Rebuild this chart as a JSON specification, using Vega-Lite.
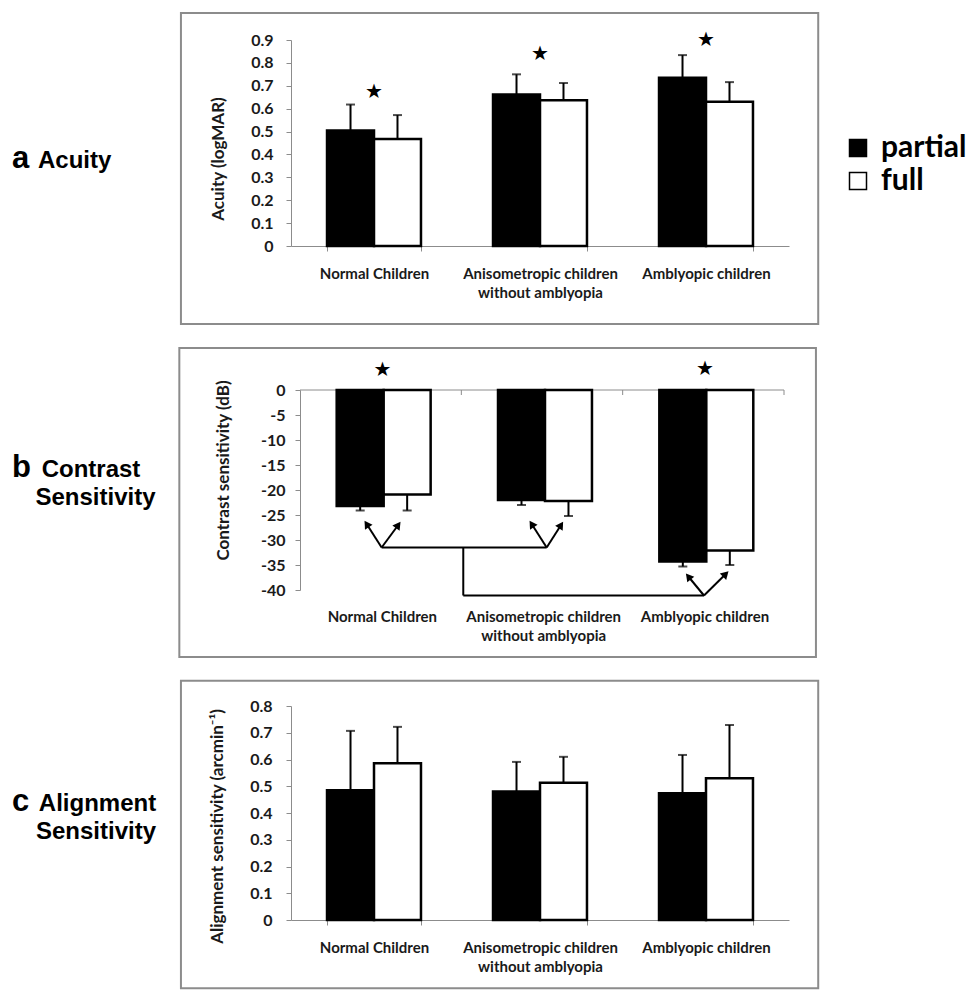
{
  "$schema": "https://vega.github.io/schema/vega-lite/v6.json",
  "background": "white",
  "padding": {"left": 11, "top": 11, "right": 0, "bottom": 0},
  "spacing": 21,
  "config": {
    "view": {"stroke": null},
    "font": "Lato",
    "axisY": {"labelOverlap": false, "grid": false, "domainColor": "#8c8c8c", "tickColor": "#8c8c8c", "tickSize": 5,
      "labelFont": "Lato", "labelFontWeight": "bold", "labelFontSize": 16, "labelColor": "#1a1a1a",
      "titleFont": "Lato", "titleFontWeight": "bold", "titleFontSize": 17, "titleColor": "#1a1a1a"}
  },
  "datasets": {
    "bars": [
      {"panel": "a", "group": "Normal Children", "cond": "partial", "value": 0.505, "err": 0.618},
      {"panel": "a", "group": "Normal Children", "cond": "full", "value": 0.468, "err": 0.572},
      {"panel": "a", "group": "Anisometropic children without amblyopia", "cond": "partial", "value": 0.662, "err": 0.75},
      {"panel": "a", "group": "Anisometropic children without amblyopia", "cond": "full", "value": 0.637, "err": 0.712},
      {"panel": "a", "group": "Amblyopic children", "cond": "partial", "value": 0.735, "err": 0.834},
      {"panel": "a", "group": "Amblyopic children", "cond": "full", "value": 0.63, "err": 0.716},
      {"panel": "b", "group": "Normal Children", "cond": "partial", "value": -23.2, "err": -24.1},
      {"panel": "b", "group": "Normal Children", "cond": "full", "value": -20.9, "err": -24.1},
      {"panel": "b", "group": "Anisometropic children without amblyopia", "cond": "partial", "value": -22.0, "err": -23.0},
      {"panel": "b", "group": "Anisometropic children without amblyopia", "cond": "full", "value": -22.2, "err": -25.2},
      {"panel": "b", "group": "Amblyopic children", "cond": "partial", "value": -34.3, "err": -35.3},
      {"panel": "b", "group": "Amblyopic children", "cond": "full", "value": -32.1, "err": -35.0},
      {"panel": "c", "group": "Normal Children", "cond": "partial", "value": 0.485, "err": 0.707},
      {"panel": "c", "group": "Normal Children", "cond": "full", "value": 0.586, "err": 0.722},
      {"panel": "c", "group": "Anisometropic children without amblyopia", "cond": "partial", "value": 0.48, "err": 0.591},
      {"panel": "c", "group": "Anisometropic children without amblyopia", "cond": "full", "value": 0.513, "err": 0.61},
      {"panel": "c", "group": "Amblyopic children", "cond": "partial", "value": 0.474, "err": 0.617},
      {"panel": "c", "group": "Amblyopic children", "cond": "full", "value": 0.53, "err": 0.729}
    ],
    "stars": [
      {"panel": "a", "group": "Normal Children", "y": 0.673},
      {"panel": "a", "group": "Anisometropic children without amblyopia", "y": 0.84},
      {"panel": "a", "group": "Amblyopic children", "y": 0.9},
      {"panel": "b", "group": "Normal Children", "y": 4.0},
      {"panel": "b", "group": "Amblyopic children", "y": 4.3}
    ],
    "boxes": [
      {"panel": "a", "x": -0.663, "x2": 3.176, "y": -0.341, "y2": 1.018},
      {"panel": "b", "x": -0.748, "x2": 3.198, "y": -53.4, "y2": 8.4},
      {"panel": "c", "x": -0.663, "x2": 3.176, "y": -0.255, "y2": 0.894}
    ],
    "letters": [
      {"panel": "a", "x": -1.681, "y": 0.341, "text": "a"},
      {"panel": "b", "x": -1.785, "y": -17.4, "text": "b"},
      {"panel": "c", "x": -1.681, "y": 0.409, "text": "c"}
    ],
    "words": [
      {"panel": "a", "x": -1.303, "y": 0.341, "text": "Acuity"},
      {"panel": "b", "x": -1.2955, "y": -17.4, "text": "Contrast"},
      {"panel": "b", "x": -1.2676, "y": -23.0, "text": "Sensitivity"},
      {"panel": "c", "x": -1.1657, "y": 0.409, "text": "Alignment"},
      {"panel": "c", "x": -1.1747, "y": 0.301, "text": "Sensitivity"}
    ],
    "baxis": [
      {"x": 0, "x2": 3, "y": 0, "y2": 0},
      {"x": 1, "x2": 1, "y": 0, "y2": -1},
      {"x": 2, "x2": 2, "y": 0, "y2": -1},
      {"x": 3, "x2": 3, "y": 0, "y2": -1}
    ],
    "bsegs": [
      {"x": 0.506, "y": -31.5, "x2": 1.529, "y2": -31.5},
      {"x": 1.012, "y": -31.5, "x2": 1.012, "y2": -41.1},
      {"x": 1.012, "y": -41.1, "x2": 2.504, "y2": -41.1},
      {"x": 0.506, "y": -31.5, "x2": 0.413, "y2": -26.8},
      {"x": 0.506, "y": -31.5, "x2": 0.609, "y2": -27.0},
      {"x": 1.529, "y": -31.5, "x2": 1.436, "y2": -26.8},
      {"x": 1.529, "y": -31.5, "x2": 1.618, "y2": -27.0},
      {"x": 2.504, "y": -41.1, "x2": 2.407, "y2": -37.3},
      {"x": 2.504, "y": -41.1, "x2": 2.639, "y2": -36.8}
    ],
    "heads": [
      {"x": 0.413, "y": -26.8, "angle": 327},
      {"x": 0.609, "y": -27.0, "angle": 36},
      {"x": 1.436, "y": -26.8, "angle": 327},
      {"x": 1.618, "y": -27.0, "angle": 33},
      {"x": 2.407, "y": -37.3, "angle": 321},
      {"x": 2.639, "y": -36.8, "angle": 45}
    ]
  },
  "vconcat": [
    {
      "width": 498,
      "height": 206,
      "resolve": {"scale": {"x": "independent"}},
      "layer": [
        {
          "data": {"name": "boxes"},
          "transform": [{"filter": "datum.panel == 'a'"}],
          "mark": {"type": "rect", "fillOpacity": 0, "stroke": "#8c8c8c", "strokeWidth": 2},
          "encoding": {
            "x": {"field": "x", "type": "quantitative", "scale": {"domain": [0, 3], "nice": false, "zero": false}, "axis": null},
            "x2": {"field": "x2"},
            "y": {"field": "y", "type": "quantitative", "scale": {"domain": [0, 0.9], "nice": false, "zero": false},
              "axis": {"title": "Acuity (logMAR)", "values": [0, 0.1, 0.2, 0.3, 0.4, 0.5, 0.6, 0.7, 0.8, 0.9], "labelExpr": "toString(datum.value)", "labelPadding": 13, "titlePadding": 23, "titleY": 118.5}},
            "y2": {"field": "y2"}
          }
        },
        {
          "data": {"name": "bars"},
          "transform": [{"filter": "datum.panel == 'a'"}],
          "layer": [
            {
              "mark": {"type": "bar", "stroke": "black", "strokeWidth": 2.5},
              "encoding": {
                "x": {"field": "group", "type": "nominal", "title": null, "sort": ["Normal Children", "Anisometropic children without amblyopia", "Amblyopic children"],
                  "scale": {"domain": ["Normal Children", "Anisometropic children without amblyopia", "Amblyopic children"], "paddingInner": 0.434, "paddingOuter": 0.217, "round": false},
                  "axis": {"domainColor": "#8c8c8c", "tickColor": "#8c8c8c", "tickSize": 5, "tickBand": "extent", "labelAngle": 0, "labelPadding": 15, "labelLineHeight": 19, "labelLimit": 400,
                    "labelFont": "Lato", "labelFontWeight": "bold", "labelFontSize": 15, "labelColor": "#1a1a1a",
                    "labelExpr": "datum.value == 'Anisometropic children without amblyopia' ? ['Anisometropic children', 'without amblyopia'] : datum.label"}},
                "xOffset": {"field": "cond", "type": "nominal", "sort": ["partial", "full"], "scale": {"domain": ["partial", "full"], "paddingInner": 0, "paddingOuter": 0}},
                "y": {"field": "value", "type": "quantitative", "scale": {"domain": [0, 0.9], "nice": false, "zero": false},
                  "axis": {"title": "Acuity (logMAR)", "values": [0, 0.1, 0.2, 0.3, 0.4, 0.5, 0.6, 0.7, 0.8, 0.9], "labelExpr": "toString(datum.value)", "labelPadding": 13, "titlePadding": 23, "titleY": 118.5}},
                "fill": {"field": "cond", "type": "nominal", "scale": {"domain": ["partial", "full"], "range": ["black", "white"]},
                  "legend": {"orient": "none", "legendX": 552, "legendY": 93, "title": null, "symbolType": "square", "symbolSize": 289, "symbolStrokeColor": "black", "symbolStrokeWidth": 1.5,
                    "labelFont": "Lato", "labelFontWeight": "bold", "labelFontSize": 30, "labelColor": "black", "rowPadding": 3, "labelOffset": 8, "padding": 0}}
              }
            },
            {
              "mark": {"type": "rule", "color": "black", "strokeWidth": 2},
              "encoding": {
                "x": {"field": "group", "type": "nominal", "title": null},
                "xOffset": {"field": "cond", "type": "nominal"},
                "y": {"field": "value", "type": "quantitative",
                  "axis": {"title": "Acuity (logMAR)", "values": [0, 0.1, 0.2, 0.3, 0.4, 0.5, 0.6, 0.7, 0.8, 0.9], "labelExpr": "toString(datum.value)", "labelPadding": 13, "titlePadding": 23, "titleY": 118.5}},
                "y2": {"field": "err"}
              }
            },
            {
              "mark": {"type": "tick", "color": "black", "thickness": 2, "size": 9, "orient": "horizontal"},
              "encoding": {
                "x": {"field": "group", "type": "nominal", "title": null},
                "xOffset": {"field": "cond", "type": "nominal"},
                "y": {"field": "err", "type": "quantitative",
                  "axis": {"title": "Acuity (logMAR)", "values": [0, 0.1, 0.2, 0.3, 0.4, 0.5, 0.6, 0.7, 0.8, 0.9], "labelExpr": "toString(datum.value)", "labelPadding": 13, "titlePadding": 23, "titleY": 118.5}}
              }
            },
            {
              "data": {"name": "stars"},
              "transform": [{"filter": "datum.panel == 'a'"}],
              "mark": {"type": "text", "text": "★", "font": "DejaVu Sans", "fontSize": 20, "baseline": "middle", "align": "center", "color": "black"},
              "encoding": {
                "x": {"field": "group", "type": "nominal", "title": null},
                "y": {"field": "y", "type": "quantitative",
                  "axis": {"title": "Acuity (logMAR)", "values": [0, 0.1, 0.2, 0.3, 0.4, 0.5, 0.6, 0.7, 0.8, 0.9], "labelExpr": "toString(datum.value)", "labelPadding": 13, "titlePadding": 23, "titleY": 118.5}}
              }
            }
          ]
        },
        {
          "data": {"name": "letters"},
          "transform": [{"filter": "datum.panel == 'a'"}],
          "mark": {"type": "text", "font": "Liberation Sans", "fontWeight": "bold", "fontSize": 31, "align": "left", "baseline": "alphabetic", "color": "black"},
          "encoding": {
            "x": {"field": "x", "type": "quantitative", "scale": {"domain": [0, 3], "nice": false, "zero": false}, "axis": null},
            "y": {"field": "y", "type": "quantitative",
              "axis": {"title": "Acuity (logMAR)", "values": [0, 0.1, 0.2, 0.3, 0.4, 0.5, 0.6, 0.7, 0.8, 0.9], "labelExpr": "toString(datum.value)", "labelPadding": 13, "titlePadding": 23, "titleY": 118.5}},
            "text": {"field": "text"}
          }
        },
        {
          "data": {"name": "words"},
          "transform": [{"filter": "datum.panel == 'a'"}],
          "mark": {"type": "text", "font": "Liberation Sans", "fontWeight": "bold", "fontSize": 24, "align": "center", "baseline": "alphabetic", "color": "black"},
          "encoding": {
            "x": {"field": "x", "type": "quantitative", "scale": {"domain": [0, 3], "nice": false, "zero": false}, "axis": null},
            "y": {"field": "y", "type": "quantitative",
              "axis": {"title": "Acuity (logMAR)", "values": [0, 0.1, 0.2, 0.3, 0.4, 0.5, 0.6, 0.7, 0.8, 0.9], "labelExpr": "toString(datum.value)", "labelPadding": 13, "titlePadding": 23, "titleY": 118.5}},
            "text": {"field": "text"}
          }
        }
      ]
    },
    {
      "width": 493,
      "height": 200,
      "resolve": {"scale": {"x": "independent"}},
      "layer": [
        {
          "data": {"name": "boxes"},
          "transform": [{"filter": "datum.panel == 'b'"}],
          "mark": {"type": "rect", "fillOpacity": 0, "stroke": "#8c8c8c", "strokeWidth": 2},
          "encoding": {
            "x": {"field": "x", "type": "quantitative", "scale": {"domain": [-0.0558, 3], "nice": false, "zero": false}, "axis": null},
            "x2": {"field": "x2"},
            "y": {"field": "y", "type": "quantitative", "scale": {"domain": [-40, 0], "nice": false, "zero": false},
              "axis": {"title": "Contrast sensitivity (dB)", "values": [-40, -35, -30, -25, -20, -15, -10, -5, 0], "labelExpr": "toString(datum.value)", "offset": -9, "labelPadding": 10, "titlePadding": 28, "titleY": 80}},
            "y2": {"field": "y2"}
          }
        },
        {
          "data": {"name": "baxis"},
          "mark": {"type": "rule", "color": "#8c8c8c", "strokeWidth": 1},
          "encoding": {
            "x": {"field": "x", "type": "quantitative", "scale": {"domain": [-0.0558, 3], "nice": false, "zero": false}, "axis": null},
            "x2": {"field": "x2"},
            "y": {"field": "y", "type": "quantitative",
              "axis": {"title": "Contrast sensitivity (dB)", "values": [-40, -35, -30, -25, -20, -15, -10, -5, 0], "labelExpr": "toString(datum.value)", "offset": -9, "labelPadding": 10, "titlePadding": 28, "titleY": 80}},
            "y2": {"field": "y2"}
          }
        },
        {
          "data": {"name": "bars"},
          "transform": [{"filter": "datum.panel == 'b'"}],
          "layer": [
            {
              "mark": {"type": "bar", "stroke": "black", "strokeWidth": 2.5},
              "encoding": {
                "x": {"field": "group", "type": "nominal", "title": null, "sort": ["Normal Children", "Anisometropic children without amblyopia", "Amblyopic children"],
                  "scale": {"domain": ["Normal Children", "Anisometropic children without amblyopia", "Amblyopic children"], "paddingInner": 0.434, "paddingOuter": 0.245, "align": 0.578, "round": false},
                  "axis": {"domain": false, "ticks": false, "labelAngle": 0, "labelPadding": 19, "labelLineHeight": 19, "labelLimit": 400,
                    "labelFont": "Lato", "labelFontWeight": "bold", "labelFontSize": 15, "labelColor": "#1a1a1a",
                    "labelExpr": "datum.value == 'Anisometropic children without amblyopia' ? ['Anisometropic children', 'without amblyopia'] : datum.label"}},
                "xOffset": {"field": "cond", "type": "nominal", "sort": ["partial", "full"], "scale": {"domain": ["partial", "full"], "paddingInner": 0, "paddingOuter": 0}},
                "y": {"field": "value", "type": "quantitative", "scale": {"domain": [-40, 0], "nice": false, "zero": false},
                  "axis": {"title": "Contrast sensitivity (dB)", "values": [-40, -35, -30, -25, -20, -15, -10, -5, 0], "labelExpr": "toString(datum.value)", "offset": -9, "labelPadding": 10, "titlePadding": 28, "titleY": 80}},
                "y2": {"datum": 0},
                "fill": {"field": "cond", "type": "nominal", "scale": {"domain": ["partial", "full"], "range": ["black", "white"]},
                  "legend": {"orient": "none", "legendX": 552, "legendY": 93, "title": null, "symbolType": "square", "symbolSize": 289, "symbolStrokeColor": "black", "symbolStrokeWidth": 1.5,
                    "labelFont": "Lato", "labelFontWeight": "bold", "labelFontSize": 30, "labelColor": "black", "rowPadding": 3, "labelOffset": 8, "padding": 0}}
              }
            },
            {
              "mark": {"type": "rule", "color": "black", "strokeWidth": 2},
              "encoding": {
                "x": {"field": "group", "type": "nominal", "title": null},
                "xOffset": {"field": "cond", "type": "nominal"},
                "y": {"field": "value", "type": "quantitative",
                  "axis": {"title": "Contrast sensitivity (dB)", "values": [-40, -35, -30, -25, -20, -15, -10, -5, 0], "labelExpr": "toString(datum.value)", "offset": -9, "labelPadding": 10, "titlePadding": 28, "titleY": 80}},
                "y2": {"field": "err"}
              }
            },
            {
              "mark": {"type": "tick", "color": "black", "thickness": 2, "size": 9, "orient": "horizontal"},
              "encoding": {
                "x": {"field": "group", "type": "nominal", "title": null},
                "xOffset": {"field": "cond", "type": "nominal"},
                "y": {"field": "err", "type": "quantitative",
                  "axis": {"title": "Contrast sensitivity (dB)", "values": [-40, -35, -30, -25, -20, -15, -10, -5, 0], "labelExpr": "toString(datum.value)", "offset": -9, "labelPadding": 10, "titlePadding": 28, "titleY": 80}}
              }
            },
            {
              "data": {"name": "stars"},
              "transform": [{"filter": "datum.panel == 'b'"}],
              "mark": {"type": "text", "text": "★", "font": "DejaVu Sans", "fontSize": 20, "baseline": "middle", "align": "center", "color": "black"},
              "encoding": {
                "x": {"field": "group", "type": "nominal", "title": null},
                "y": {"field": "y", "type": "quantitative",
                  "axis": {"title": "Contrast sensitivity (dB)", "values": [-40, -35, -30, -25, -20, -15, -10, -5, 0], "labelExpr": "toString(datum.value)", "offset": -9, "labelPadding": 10, "titlePadding": 28, "titleY": 80}}
              }
            }
          ]
        },
        {
          "data": {"name": "bsegs"},
          "mark": {"type": "rule", "color": "black", "strokeWidth": 2},
          "encoding": {
            "x": {"field": "x", "type": "quantitative", "scale": {"domain": [-0.0558, 3], "nice": false, "zero": false}, "axis": null},
            "x2": {"field": "x2"},
            "y": {"field": "y", "type": "quantitative",
              "axis": {"title": "Contrast sensitivity (dB)", "values": [-40, -35, -30, -25, -20, -15, -10, -5, 0], "labelExpr": "toString(datum.value)", "offset": -9, "labelPadding": 10, "titlePadding": 28, "titleY": 80}},
            "y2": {"field": "y2"}
          }
        },
        {
          "data": {"name": "heads"},
          "mark": {"type": "point", "shape": "triangle-up", "filled": true, "color": "black", "size": 80, "opacity": 1},
          "encoding": {
            "x": {"field": "x", "type": "quantitative", "scale": {"domain": [-0.0558, 3], "nice": false, "zero": false}, "axis": null},
            "y": {"field": "y", "type": "quantitative",
              "axis": {"title": "Contrast sensitivity (dB)", "values": [-40, -35, -30, -25, -20, -15, -10, -5, 0], "labelExpr": "toString(datum.value)", "offset": -9, "labelPadding": 10, "titlePadding": 28, "titleY": 80}},
            "angle": {"field": "angle", "type": "quantitative", "scale": null}
          }
        },
        {
          "data": {"name": "letters"},
          "transform": [{"filter": "datum.panel == 'b'"}],
          "mark": {"type": "text", "font": "Liberation Sans", "fontWeight": "bold", "fontSize": 31, "align": "left", "baseline": "alphabetic", "color": "black"},
          "encoding": {
            "x": {"field": "x", "type": "quantitative", "scale": {"domain": [-0.0558, 3], "nice": false, "zero": false}, "axis": null},
            "y": {"field": "y", "type": "quantitative",
              "axis": {"title": "Contrast sensitivity (dB)", "values": [-40, -35, -30, -25, -20, -15, -10, -5, 0], "labelExpr": "toString(datum.value)", "offset": -9, "labelPadding": 10, "titlePadding": 28, "titleY": 80}},
            "text": {"field": "text"}
          }
        },
        {
          "data": {"name": "words"},
          "transform": [{"filter": "datum.panel == 'b'"}],
          "mark": {"type": "text", "font": "Liberation Sans", "fontWeight": "bold", "fontSize": 24, "align": "center", "baseline": "alphabetic", "color": "black"},
          "encoding": {
            "x": {"field": "x", "type": "quantitative", "scale": {"domain": [-0.0558, 3], "nice": false, "zero": false}, "axis": null},
            "y": {"field": "y", "type": "quantitative",
              "axis": {"title": "Contrast sensitivity (dB)", "values": [-40, -35, -30, -25, -20, -15, -10, -5, 0], "labelExpr": "toString(datum.value)", "offset": -9, "labelPadding": 10, "titlePadding": 28, "titleY": 80}},
            "text": {"field": "text"}
          }
        }
      ]
    },
    {
      "width": 498,
      "height": 214,
      "resolve": {"scale": {"x": "independent"}},
      "layer": [
        {
          "data": {"name": "boxes"},
          "transform": [{"filter": "datum.panel == 'c'"}],
          "mark": {"type": "rect", "fillOpacity": 0, "stroke": "#8c8c8c", "strokeWidth": 2},
          "encoding": {
            "x": {"field": "x", "type": "quantitative", "scale": {"domain": [0, 3], "nice": false, "zero": false}, "axis": null},
            "x2": {"field": "x2"},
            "y": {"field": "y", "type": "quantitative", "scale": {"domain": [0, 0.8], "nice": false, "zero": false},
              "axis": {"title": "Alignment sensitivity (arcmin⁻¹)", "values": [0, 0.1, 0.2, 0.3, 0.4, 0.5, 0.6, 0.7, 0.8], "labelExpr": "toString(datum.value)", "labelPadding": 14, "titlePadding": 23, "titleY": 120}},
            "y2": {"field": "y2"}
          }
        },
        {
          "data": {"name": "bars"},
          "transform": [{"filter": "datum.panel == 'c'"}],
          "layer": [
            {
              "mark": {"type": "bar", "stroke": "black", "strokeWidth": 2.5},
              "encoding": {
                "x": {"field": "group", "type": "nominal", "title": null, "sort": ["Normal Children", "Anisometropic children without amblyopia", "Amblyopic children"],
                  "scale": {"domain": ["Normal Children", "Anisometropic children without amblyopia", "Amblyopic children"], "paddingInner": 0.434, "paddingOuter": 0.217, "round": false},
                  "axis": {"domainColor": "#8c8c8c", "tickColor": "#8c8c8c", "tickSize": 5, "tickBand": "extent", "labelAngle": 0, "labelPadding": 15, "labelLineHeight": 19, "labelLimit": 400,
                    "labelFont": "Lato", "labelFontWeight": "bold", "labelFontSize": 15, "labelColor": "#1a1a1a",
                    "labelExpr": "datum.value == 'Anisometropic children without amblyopia' ? ['Anisometropic children', 'without amblyopia'] : datum.label"}},
                "xOffset": {"field": "cond", "type": "nominal", "sort": ["partial", "full"], "scale": {"domain": ["partial", "full"], "paddingInner": 0, "paddingOuter": 0}},
                "y": {"field": "value", "type": "quantitative", "scale": {"domain": [0, 0.8], "nice": false, "zero": false},
                  "axis": {"title": "Alignment sensitivity (arcmin⁻¹)", "values": [0, 0.1, 0.2, 0.3, 0.4, 0.5, 0.6, 0.7, 0.8], "labelExpr": "toString(datum.value)", "labelPadding": 14, "titlePadding": 23, "titleY": 120}},
                "fill": {"field": "cond", "type": "nominal", "scale": {"domain": ["partial", "full"], "range": ["black", "white"]},
                  "legend": {"orient": "none", "legendX": 552, "legendY": 93, "title": null, "symbolType": "square", "symbolSize": 289, "symbolStrokeColor": "black", "symbolStrokeWidth": 1.5,
                    "labelFont": "Lato", "labelFontWeight": "bold", "labelFontSize": 30, "labelColor": "black", "rowPadding": 3, "labelOffset": 8, "padding": 0}}
              }
            },
            {
              "mark": {"type": "rule", "color": "black", "strokeWidth": 2},
              "encoding": {
                "x": {"field": "group", "type": "nominal", "title": null},
                "xOffset": {"field": "cond", "type": "nominal"},
                "y": {"field": "value", "type": "quantitative",
                  "axis": {"title": "Alignment sensitivity (arcmin⁻¹)", "values": [0, 0.1, 0.2, 0.3, 0.4, 0.5, 0.6, 0.7, 0.8], "labelExpr": "toString(datum.value)", "labelPadding": 14, "titlePadding": 23, "titleY": 120}},
                "y2": {"field": "err"}
              }
            },
            {
              "mark": {"type": "tick", "color": "black", "thickness": 2, "size": 9, "orient": "horizontal"},
              "encoding": {
                "x": {"field": "group", "type": "nominal", "title": null},
                "xOffset": {"field": "cond", "type": "nominal"},
                "y": {"field": "err", "type": "quantitative",
                  "axis": {"title": "Alignment sensitivity (arcmin⁻¹)", "values": [0, 0.1, 0.2, 0.3, 0.4, 0.5, 0.6, 0.7, 0.8], "labelExpr": "toString(datum.value)", "labelPadding": 14, "titlePadding": 23, "titleY": 120}}
              }
            }
          ]
        },
        {
          "data": {"name": "letters"},
          "transform": [{"filter": "datum.panel == 'c'"}],
          "mark": {"type": "text", "font": "Liberation Sans", "fontWeight": "bold", "fontSize": 31, "align": "left", "baseline": "alphabetic", "color": "black"},
          "encoding": {
            "x": {"field": "x", "type": "quantitative", "scale": {"domain": [0, 3], "nice": false, "zero": false}, "axis": null},
            "y": {"field": "y", "type": "quantitative",
              "axis": {"title": "Alignment sensitivity (arcmin⁻¹)", "values": [0, 0.1, 0.2, 0.3, 0.4, 0.5, 0.6, 0.7, 0.8], "labelExpr": "toString(datum.value)", "labelPadding": 14, "titlePadding": 23, "titleY": 120}},
            "text": {"field": "text"}
          }
        },
        {
          "data": {"name": "words"},
          "transform": [{"filter": "datum.panel == 'c'"}],
          "mark": {"type": "text", "font": "Liberation Sans", "fontWeight": "bold", "fontSize": 24, "align": "center", "baseline": "alphabetic", "color": "black"},
          "encoding": {
            "x": {"field": "x", "type": "quantitative", "scale": {"domain": [0, 3], "nice": false, "zero": false}, "axis": null},
            "y": {"field": "y", "type": "quantitative",
              "axis": {"title": "Alignment sensitivity (arcmin⁻¹)", "values": [0, 0.1, 0.2, 0.3, 0.4, 0.5, 0.6, 0.7, 0.8], "labelExpr": "toString(datum.value)", "labelPadding": 14, "titlePadding": 23, "titleY": 120}},
            "text": {"field": "text"}
          }
        }
      ]
    }
  ]
}
